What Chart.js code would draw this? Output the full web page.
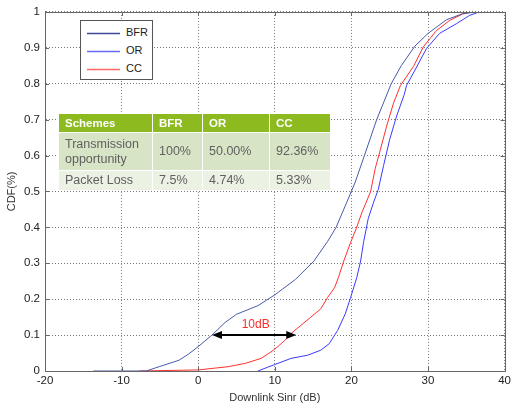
<!DOCTYPE html>
<html>
<head>
<meta charset="utf-8">
<script src="https://cdn.jsdelivr.net/npm/chart.js@4.4.1/dist/chart.umd.min.js"></script>
<style>
  html, body { margin: 0; padding: 0; background: #fff; }
  #wrap { position: relative; width: 514px; height: 410px; font-family: "Liberation Sans", Arial, sans-serif; }
  canvas { display: block; }
  .legend { position: absolute; left: 80px; top: 20px; width: 71px; height: 58px; border: 1px solid #555; background: #fff; font-size: 11px; color: #222; }
  .legend .row { position: absolute; left: 6px; height: 14px; line-height: 14px; white-space: nowrap; }
  .legend svg { display: inline-block; vertical-align: middle; margin-right: 6px; }
  table.schemes { position: absolute; left: 58px; top: 113px; border-collapse: collapse; table-layout: fixed; font-size: 12.5px; color: #606060; }
  table.schemes td, table.schemes th { border: 1px solid #fff; padding: 0 0 0 6px; text-align: left; vertical-align: middle; line-height: 15px; }
  table.schemes th { background: #8cba1f; color: #fff; font-weight: bold; font-size: 11.5px; height: 18px; }
  table.schemes tr.r1 td { background: #d8e4c6; height: 37px; }
  table.schemes tr.r2 td { background: #ebf1e3; height: 19px; }
</style>
</head>
<body>
<div id="wrap">
  <canvas id="chart-cdf" width="514" height="410"></canvas>
  <div class="legend" id="legend"></div>
  <table class="schemes" id="schemes"></table>
</div>
<script>
// CDF of downlink SINR for three schemes
const xTicks = [-20, -10, 0, 10, 20, 30, 40];
const yTicks = [0, 0.1, 0.2, 0.3, 0.4, 0.5, 0.6, 0.7, 0.8, 0.9, 1];
const yTickLabels = ['0', '0.1', '0.2', '0.3', '0.4', '0.5', '0.6', '0.7', '0.8', '0.9', '1'];

const bfrX = [-13.7, -6.8, -5.1, -3.8, -2.5, -1.2, 0, 1.8, 3.5, 5.0, 7.8, 10.0, 11.0, 12.7, 15.1, 16.9, 18.0, 19.4, 20.5, 21.7, 23.3, 25.2, 26.5, 28.3, 30.0, 32.4, 34.5, 36.4];
const bfrY = [0, 0, 0.012, 0.021, 0.03, 0.048, 0.068, 0.10, 0.135, 0.158, 0.182, 0.212, 0.228, 0.255, 0.306, 0.361, 0.40, 0.47, 0.526, 0.60, 0.70, 0.80, 0.85, 0.905, 0.94, 0.978, 0.995, 1.0];

const orX = [7.8, 9.0, 10.0, 12.1, 14.3, 16.0, 17.1, 18.2, 19.2, 19.9, 20.7, 21.2, 21.6, 22.2, 22.9, 23.5, 24.2, 25.0, 25.9, 26.9, 27.2, 28.3, 29.8, 31.5, 33.7, 35.4, 36.7];
const orY = [0, 0.01, 0.018, 0.035, 0.044, 0.058, 0.076, 0.113, 0.159, 0.205, 0.26, 0.306, 0.36, 0.425, 0.47, 0.505, 0.572, 0.645, 0.71, 0.77, 0.795, 0.838, 0.898, 0.94, 0.967, 0.99, 1.0];

const ccX = [-7.7, 0, 3.9, 6.1, 8.2, 9.5, 10.4, 11.3, 12.1, 13.4, 14.7, 16.0, 16.9, 17.8, 18.3, 19.0, 19.9, 20.6, 21.4, 22.5, 23.1, 23.8, 24.6, 25.5, 26.4, 28.1, 29.4, 31.1, 32.8, 34.5, 35.8];
const ccY = [0, 0.003, 0.012, 0.021, 0.035, 0.053, 0.068, 0.085, 0.104, 0.127, 0.15, 0.173, 0.205, 0.232, 0.26, 0.306, 0.358, 0.395, 0.443, 0.499, 0.563, 0.618, 0.682, 0.746, 0.795, 0.848, 0.903, 0.948, 0.976, 0.994, 1.0];

const seriesNames = ['BFR', 'OR', 'CC'];
const seriesColors = ['#4a5aaa', '#3a3aff', '#ff3030'];
const legendColors = ['#3c4a98', '#6a6aff', '#ff6a6a'];

// "10dB" gap annotation
const arrowX = [1.8, 12.8];
const arrowY = 0.1;
const arrowLabel = '10dB';
const arrowLabelPos = [7.5, 0.128];

// inset table
const tableHeader = ['Schemes', 'BFR', 'OR', 'CC'];
const tableRows = [
  ['Transmission<br>opportunity', '100%', '50.00%', '92.36%'],
  ['Packet Loss', '7.5%', '4.74%', '5.33%'],
];
const tableColWidths = [94, 50, 67, 61];

const FONT = '"Liberation Sans", Arial, sans-serif';
Chart.defaults.font.family = FONT;

function toPoints(xs, ys) {
  return xs.map((x, i) => ({ x, y: ys[i] }));
}

function buildLegend() {
  const el = document.getElementById('legend');
  el.innerHTML = seriesNames.map((name, i) =>
    `<div class="row" style="top:${4 + i * 18}px"><svg width="33" height="3"><line x1="0" y1="1.5" x2="33" y2="1.5" stroke="${legendColors[i]}" stroke-width="1.4"/></svg>${name}</div>`
  ).join('');
}

function buildTable() {
  const el = document.getElementById('schemes');
  const cols = tableColWidths.map(w => `<col style="width:${w}px">`).join('');
  const head = '<tr>' + tableHeader.map(h => `<th>${h}</th>`).join('') + '</tr>';
  const body = tableRows.map((r, i) => `<tr class="r${i + 1}">` + r.map(c => `<td>${c}</td>`).join('') + '</tr>').join('');
  el.innerHTML = `<colgroup>${cols}</colgroup>${head}${body}`;
}

// solid frame plus small inward ticks, MATLAB style
const framePlugin = {
  id: 'frame',
  afterDraw(chart) {
    const { ctx, chartArea: a, scales: { x, y } } = chart;
    ctx.save();
    ctx.strokeStyle = '#666';
    ctx.lineWidth = 1;
    ctx.strokeRect(Math.round(a.left) + 0.5, Math.round(a.top) + 0.5, Math.round(a.right - a.left), Math.round(a.bottom - a.top));
    ctx.beginPath();
    xTicks.forEach(v => {
      const px = Math.round(x.getPixelForValue(v)) + 0.5;
      ctx.moveTo(px, a.bottom); ctx.lineTo(px, a.bottom - 4);
      ctx.moveTo(px, a.top); ctx.lineTo(px, a.top + 4);
    });
    yTicks.forEach(v => {
      const py = Math.round(y.getPixelForValue(v)) + 0.5;
      ctx.moveTo(a.left, py); ctx.lineTo(a.left + 4, py);
      ctx.moveTo(a.right, py); ctx.lineTo(a.right - 4, py);
    });
    ctx.stroke();
    ctx.restore();
  },
};

const arrowPlugin = {
  id: 'gapArrow',
  afterDatasetsDraw(chart) {
    const { ctx, scales: { x, y } } = chart;
    const x1 = x.getPixelForValue(arrowX[0]);
    const x2 = x.getPixelForValue(arrowX[1]);
    const py = y.getPixelForValue(arrowY);
    const head = 10, half = 4;
    ctx.save();
    ctx.strokeStyle = '#000';
    ctx.fillStyle = '#000';
    ctx.lineWidth = 2;
    ctx.beginPath();
    ctx.moveTo(x1 + head - 1, py); ctx.lineTo(x2 - head + 1, py);
    ctx.stroke();
    ctx.beginPath();
    ctx.moveTo(x1, py); ctx.lineTo(x1 + head, py - half); ctx.lineTo(x1 + head, py + half); ctx.closePath();
    ctx.moveTo(x2, py); ctx.lineTo(x2 - head, py - half); ctx.lineTo(x2 - head, py + half); ctx.closePath();
    ctx.fill();
    ctx.fillStyle = '#ff2a2a';
    ctx.font = `12px ${FONT}`;
    ctx.textAlign = 'center';
    ctx.textBaseline = 'middle';
    ctx.fillText(arrowLabel, x.getPixelForValue(arrowLabelPos[0]), y.getPixelForValue(arrowLabelPos[1]));
    ctx.restore();
  },
};

function renderChart() {
  const series = [[bfrX, bfrY], [orX, orY], [ccX, ccY]];
  new Chart(document.getElementById('chart-cdf'), {
    type: 'scatter',
    data: {
      datasets: series.map(([xs, ys], i) => ({
        label: seriesNames[i],
        data: toPoints(xs, ys),
        showLine: true,
        borderColor: seriesColors[i],
        backgroundColor: seriesColors[i],
        borderWidth: 1,
        pointRadius: 0,
        tension: 0,
        fill: false,
      })),
    },
    options: {
      responsive: false,
      animation: false,
      layout: { padding: { left: 0, right: 5, top: 8, bottom: 0 } },
      plugins: { legend: { display: false }, tooltip: { enabled: false } },
      scales: {
        x: {
          type: 'linear',
          min: xTicks[0],
          max: xTicks[xTicks.length - 1],
          afterBuildTicks: s => { s.ticks = xTicks.map(v => ({ value: v })); },
          ticks: { color: '#222', font: { size: 11.5 }, padding: 3, autoSkip: false, maxRotation: 0 },
          grid: { color: '#777', drawTicks: false },
          border: { color: '#666', dash: [1, 2] },
          title: { display: true, text: 'Downlink Sinr (dB)', color: '#333', font: { size: 11 }, padding: { top: 0, bottom: 5 } },
          afterFit: s => { s.height = 39; },
        },
        y: {
          type: 'linear',
          min: yTicks[0],
          max: yTicks[yTicks.length - 1],
          afterBuildTicks: s => { s.ticks = yTicks.map(v => ({ value: v })); },
          ticks: {
            color: '#222', font: { size: 11.5 }, padding: 5, autoSkip: false,
            callback: v => yTickLabels[yTicks.findIndex(t => Math.abs(t - v) < 1e-9)],
          },
          grid: { color: '#777', drawTicks: false },
          border: { color: '#666', dash: [1, 2] },
          title: { display: true, text: 'CDF(%)', color: '#333', font: { size: 11 }, padding: { top: 5, bottom: 0 } },
          afterFit: s => { s.width = 45; },
        },
      },
    },
    plugins: [framePlugin, arrowPlugin],
  });
}

buildLegend();
buildTable();
renderChart();
</script>
</body>
</html>
